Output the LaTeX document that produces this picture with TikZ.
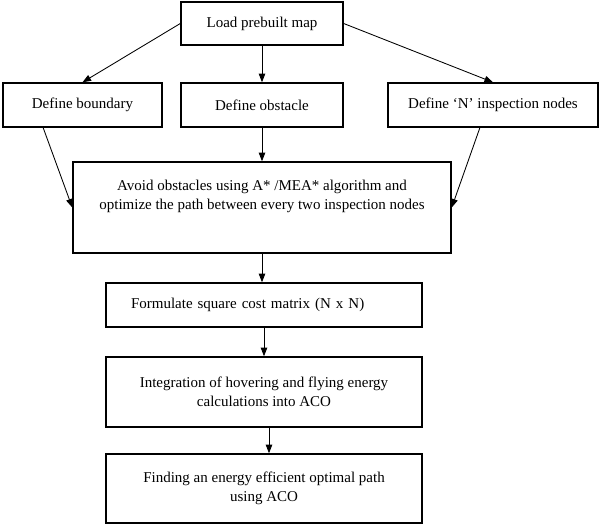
\documentclass[tikz,border=0pt]{standalone}
\usepackage{fontspec}
\setmainfont{Liberation Serif}
\usetikzlibrary{arrows.meta}

\begin{document}
\begin{tikzpicture}[x=0.7pt, y=-0.7pt,
	box/.style={draw=black, line width=1pt, align=center, inner sep=2pt,
	font=\fontsize{10.5}{13}\selectfont},
	arr/.style={line width=0.6pt, -{Triangle[length=6pt,width=4.5pt]}}]
	\useasboundingbox (0,0) rectangle (600,525);
	% Karte laden
	\node[box, minimum width=113.4pt, minimum height=30.1pt] (load) at (262,
	23.5) {Load prebuilt map};
	% Definitionen
	\node[box, minimum width=111.3pt, minimum height=30.8pt] (boundary) at (82.5,
	105) {Define boundary};
	\node[box, minimum width=113.4pt, minimum height=30.8pt] (obstacle) at (262,
	105) {Define obstacle};
	\node[box, minimum width=147pt, minimum height=30.8pt] (nodes) at (493,
	105) {Define ‘N’ inspection nodes};
	% Pfadplanung
	\node[box, minimum width=264.6pt, minimum height=63.7pt] (avoid) at (262,
	207.5) {Avoid obstacles using A* /MEA* algorithm and\\
	optimize the path between every two inspection nodes\\[5pt]\mbox{}};
	\node[box, align=left, inner xsep=17.5pt, text width=186.2pt,
	minimum height=30.8pt] (matrix) at (264, 305) {Formulate square cost
	matrix (N x N)};
	\node[box, minimum width=221.2pt, minimum height=49pt] (integ) at (264,
	392) {Integration of hovering and flying energy\\calculations into ACO};
	\node[box, minimum width=221.2pt, minimum height=48.3pt] (finding) at (264,
	488.5) {Finding an energy efficient optimal path\\using ACO};
	% Pfeile
	\draw[arr] (load.west) -- (boundary.north);
	\draw[arr] (load.south) -- (obstacle.north);
	\draw[arr] (load.east) -- (nodes.north);
	\draw[arr] (boundary.-150) -- (avoid.west);
	\draw[arr] (obstacle.south) -- (avoid.north);
	\draw[arr] (nodes.-120) -- (avoid.east);
	\draw[arr] (avoid.south) -- (avoid.south |- matrix.north);
	\draw[arr] (matrix.south) -- (integ.north);
	\draw[arr] ([xshift=3.5pt]integ.south) -- ([xshift=3.5pt]finding.north);
\end{tikzpicture}
\end{document}
